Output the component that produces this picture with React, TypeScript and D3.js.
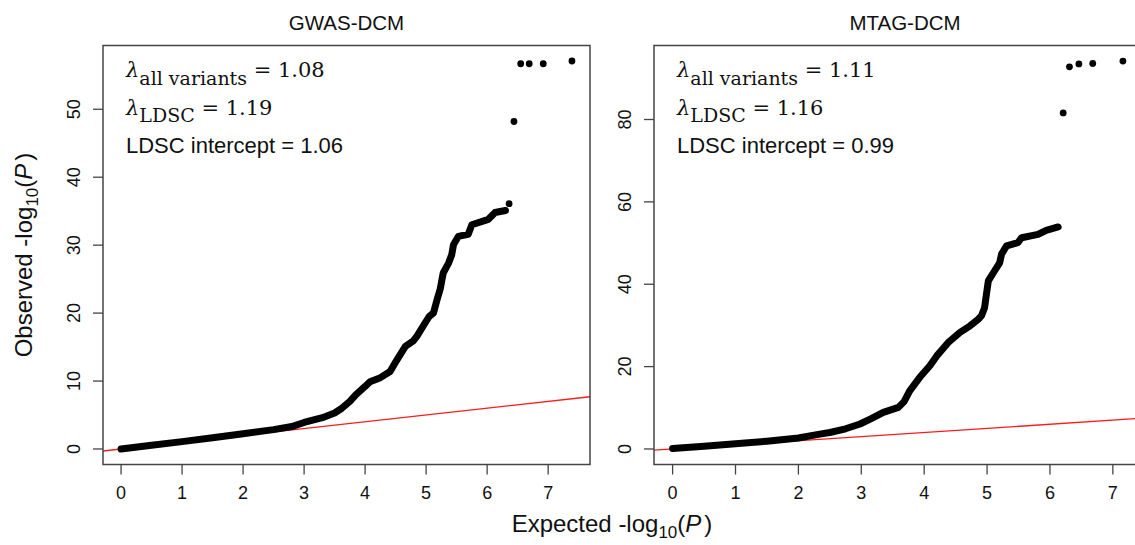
import React from 'react';
import * as d3 from 'd3';

// ---------- data ----------
const xTicks = [0, 1, 2, 3, 4, 5, 6, 7];
const gwasYTicks = [0, 10, 20, 30, 40, 50];
const mtagYTicks = [0, 20, 40, 60, 80];

const gwasCurveExp = [0, 0.5, 1, 1.5, 2, 2.5, 2.8, 3, 3.3, 3.5, 3.62, 3.75, 3.85, 4.0, 4.08, 4.25, 4.41, 4.5, 4.57, 4.66, 4.79, 4.85, 4.98, 5.05, 5.12, 5.18, 5.23, 5.28, 5.37, 5.42, 5.45, 5.53, 5.69, 5.75, 6.02, 6.13, 6.3];
const gwasCurveObs = [0, 0.55, 1.08, 1.65, 2.25, 2.85, 3.3, 3.9, 4.6, 5.3, 6.0, 7.0, 8.0, 9.2, 9.9, 10.5, 11.4, 12.8, 13.8, 15.1, 15.9, 16.6, 18.5, 19.5, 20.0, 22.0, 23.5, 25.9, 27.4, 28.6, 30.1, 31.3, 31.6, 33.0, 33.8, 34.8, 35.1];
const gwasTopExp = [6.36, 6.44, 6.55, 6.69, 6.92, 7.39];
const gwasTopObs = [36.1, 48.2, 56.7, 56.7, 56.7, 57.1];

const mtagCurveExp = [0, 0.5, 1, 1.5, 2, 2.34, 2.5, 2.75, 2.98, 3.15, 3.35, 3.59, 3.68, 3.77, 3.93, 4.09, 4.2, 4.38, 4.57, 4.73, 4.86, 4.91, 4.96, 4.99, 5.02, 5.1, 5.2, 5.23, 5.31, 5.49, 5.55, 5.81, 5.94, 6.13];
const mtagCurveObs = [0.1, 0.65, 1.25, 1.9, 2.65, 3.6, 4.0, 4.9, 6.06, 7.3, 8.9, 10.1, 11.5, 14.1, 17.4, 20.2, 22.6, 25.8, 28.3, 29.9, 31.5, 32.3, 34.3, 37.6, 40.8, 42.8, 45.2, 47.3, 49.3, 50.1, 51.3, 52.1, 53.1, 53.9];
const mtagTopExp = [6.21, 6.31, 6.46, 6.68, 7.16];
const mtagTopObs = [81.6, 92.8, 93.5, 93.6, 94.2];

const titles = ['GWAS-DCM', 'MTAG-DCM'];
const lambdaAll = ['1.08', '1.11'];
const lambdaLDSC = ['1.19', '1.16'];
const ldscIntercept = ['1.06', '0.99'];

// ---------- layout ----------
const W = 1135;
const H = 545;
const SANS = 'Liberation Sans, Arial, Helvetica, sans-serif';
const SERIF = 'DejaVu Serif, Cambria, serif';
const AXIS_COLOR = '#444';

type PanelProps = {
  left: number;
  width: number;
  xDomain: [number, number];
  yDomain: [number, number];
  yTicks: number[];
  curveX: number[];
  curveY: number[];
  topX: number[];
  topY: number[];
  title: string;
  lAll: string;
  lLDSC: string;
  intercept: string;
  id: string;
};

const TOP = 45.5;
const HEIGHT = 419;

function Panel(p: PanelProps) {
  const x = d3.scaleLinear().domain(p.xDomain).range([p.left, p.left + p.width]);
  const y = d3.scaleLinear().domain(p.yDomain).range([TOP + HEIGHT, TOP]);
  const bottom = TOP + HEIGHT;
  const pts: [number, number][] = p.curveX.map((v, i) => [v, p.curveY[i]]);
  const line = d3
    .line<[number, number]>()
    .x((d) => x(d[0]))
    .y((d) => y(d[1]));
  const clipId = `clip-${p.id}`;
  const tx = p.left + 23;
  return (
    <g>
      <defs>
        <clipPath id={clipId}>
          <rect x={p.left} y={TOP} width={p.width} height={HEIGHT} />
        </clipPath>
      </defs>
      <text x={p.left + p.width / 2} y={30} textAnchor="middle" fontFamily={SANS} fontSize={20.5} fill="#111">
        {p.title}
      </text>
      <g clipPath={`url(#${clipId})`}>
        <line
          x1={x(p.xDomain[0])}
          y1={y(p.xDomain[0])}
          x2={x(p.xDomain[1])}
          y2={y(p.xDomain[1])}
          stroke="#ff1a1a"
          strokeWidth={1.3}
        />
        <path d={line(pts) || ''} fill="none" stroke="#000" strokeWidth={7} strokeLinecap="round" strokeLinejoin="round" />
        {p.topX.map((v, i) => (
          <circle key={i} cx={x(v)} cy={y(p.topY[i])} r={3.4} fill="#000" />
        ))}
      </g>
      <rect x={p.left} y={TOP} width={p.width} height={HEIGHT} fill="none" stroke={AXIS_COLOR} strokeWidth={1.5} />
      {xTicks.map((t) => (
        <g key={t}>
          <line x1={x(t)} x2={x(t)} y1={bottom} y2={bottom + 10} stroke={AXIS_COLOR} strokeWidth={1.3} />
          <text x={x(t)} y={bottom + 34} textAnchor="middle" fontFamily={SANS} fontSize={18} fill="#111">
            {t}
          </text>
        </g>
      ))}
      {p.yTicks.map((t) => (
        <g key={t}>
          <line x1={p.left - 10} x2={p.left} y1={y(t)} y2={y(t)} stroke={AXIS_COLOR} strokeWidth={1.3} />
          <text
            transform={`translate(${p.left - 23},${y(t)}) rotate(-90)`}
            textAnchor="middle"
            fontFamily={SANS}
            fontSize={18}
            fill="#111"
          >
            {t}
          </text>
        </g>
      ))}
      <text x={tx} y={77} fontFamily={SERIF} fontSize={21} fill="#111">
        <tspan fontStyle="italic">λ</tspan>
        <tspan dy={8} fontSize={19}>all variants</tspan>
        <tspan dy={-8} dx={0}>{` = ${p.lAll}`}</tspan>
      </text>
      <text x={tx} y={115} fontFamily={SERIF} fontSize={21} fill="#111">
        <tspan fontStyle="italic">λ</tspan>
        <tspan dy={7} fontSize={19}>LDSC</tspan>
        <tspan dy={-7} dx={0}>{` = ${p.lLDSC}`}</tspan>
      </text>
      <text x={tx} y={153} fontFamily={SANS} fontSize={22} fill="#111">
        {`LDSC intercept = ${p.intercept}`}
      </text>
    </g>
  );
}

export default function App() {
  return (
    <svg
      width={W}
      height={H}
      viewBox={`0 0 ${W} ${H}`}
      style={{ position: 'absolute', left: 0, top: 0, background: '#fff' }}
    >
      <rect x={0} y={0} width={W} height={H} fill="#fff" />
      <Panel
        id="gwas"
        left={103}
        width={487}
        xDomain={[-0.296, 7.686]}
        yDomain={[-2.284, 59.384]}
        yTicks={gwasYTicks}
        curveX={gwasCurveExp}
        curveY={gwasCurveObs}
        topX={gwasTopExp}
        topY={gwasTopObs}
        title={titles[0]}
        lAll={lambdaAll[0]}
        lLDSC={lambdaLDSC[0]}
        intercept={ldscIntercept[0]}
      />
      <Panel
        id="mtag"
        left={654}
        width={502}
        xDomain={[-0.296, 7.686]}
        yDomain={[-3.77, 97.97]}
        yTicks={mtagYTicks}
        curveX={mtagCurveExp}
        curveY={mtagCurveObs}
        topX={mtagTopExp}
        topY={mtagTopObs}
        title={titles[1]}
        lAll={lambdaAll[1]}
        lLDSC={lambdaLDSC[1]}
        intercept={ldscIntercept[1]}
      />
      <text transform="translate(32,255) rotate(-90)" textAnchor="middle" fontFamily={SANS} fontSize={24} fill="#111">
        <tspan>Observed -log</tspan>
        <tspan dy={6} fontSize={17}>10</tspan>
        <tspan dy={-6}>(</tspan>
        <tspan fontStyle="italic">P</tspan>
        <tspan dx={3}>)</tspan>
      </text>
      <text x={612} y={532} textAnchor="middle" fontFamily={SANS} fontSize={24} fill="#111">
        <tspan>Expected -log</tspan>
        <tspan dy={6} fontSize={17}>10</tspan>
        <tspan dy={-6}>(</tspan>
        <tspan fontStyle="italic">P</tspan>
        <tspan dx={3}>)</tspan>
      </text>
    </svg>
  );
}
